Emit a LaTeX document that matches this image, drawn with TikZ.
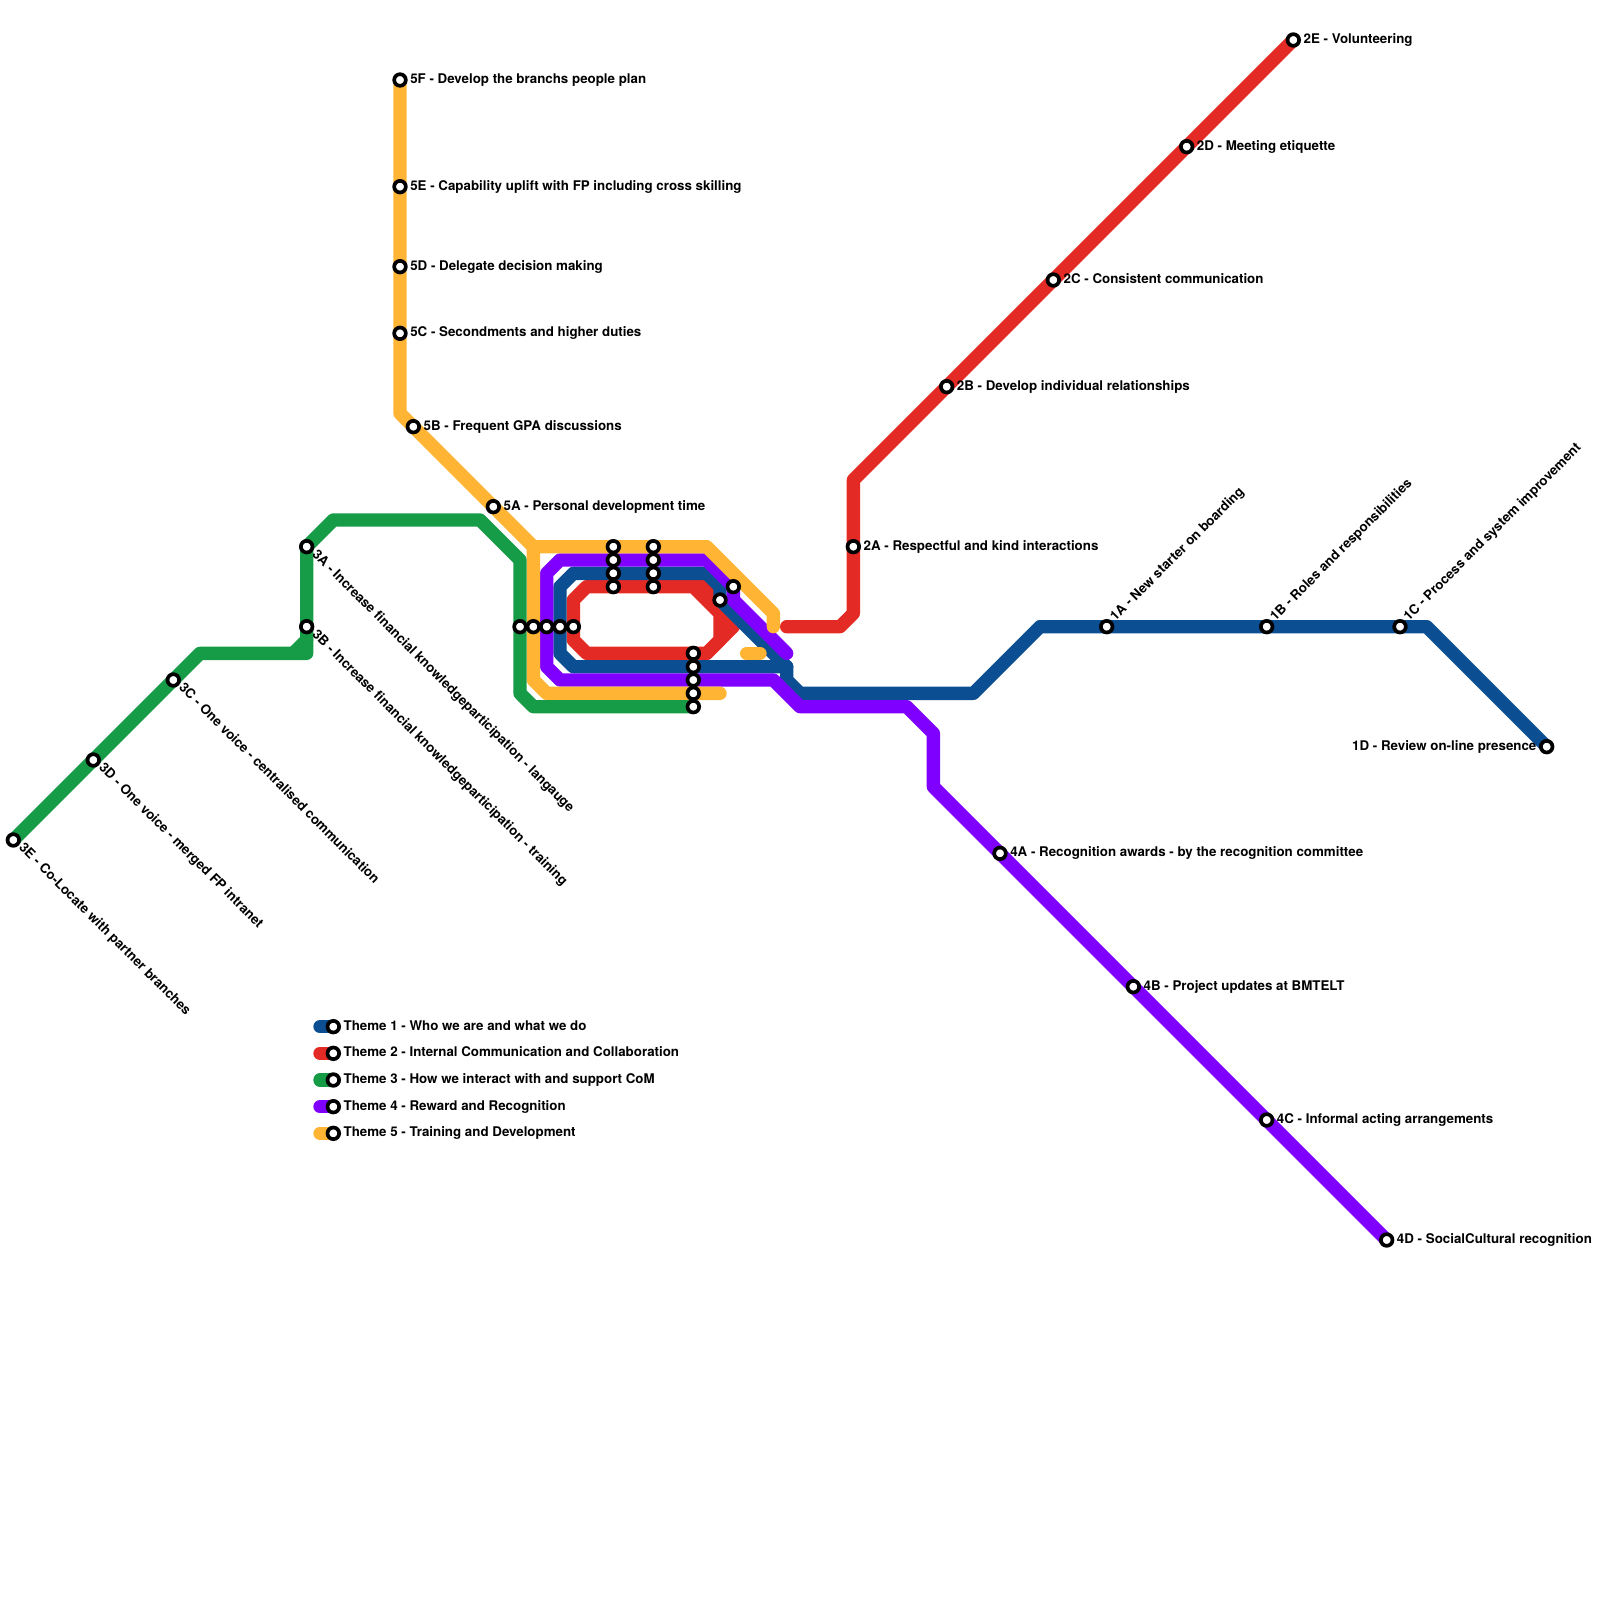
\documentclass[tikz,border=0pt]{standalone}
\usepackage{fontspec}
\setmainfont{TeX Gyre Heros}
\definecolor{tblue}{RGB}{11,78,145}
\definecolor{tred}{RGB}{228,42,36}
\definecolor{tgreen}{RGB}{22,155,70}
\definecolor{tpurple}{RGB}{128,0,255}
\definecolor{torange}{RGB}{255,181,51}
\tikzset{
  route/.style={line width=0.25cm,line cap=round,line join=round},
  station/.style={circle,draw=black,fill=white,line width=1.97pt,minimum size=0.218cm,inner sep=0pt},
  lblfont/.style={inner sep=0pt,font=\bfseries\fontsize{7.11pt}{8pt}\selectfont},
  lbl/.style={lblfont,anchor=base west,xshift=5.3pt,yshift=-1.8pt},
  lbldown/.style={lblfont,anchor=base west,rotate=-45,xshift=5pt,yshift=-1.4pt},
  lblup/.style={lblfont,anchor=base west,rotate=45,xshift=5pt,yshift=-1.4pt},
  lblleft/.style={lblfont,anchor=base east,xshift=-5.3pt,yshift=-1.8pt},
}
\newcommand{\stn}[3][lbl]{\node[station] (n#2) at (s#2) {};\node[#1] (t#2) at (s#2) {#2 - #3};}
\newcommand{\keyrow}[3]{\draw[route,#1] (ka#2) -- (k#2);\node[station] (nk#2) at (k#2) {};\node[lbl] (tk#2) at (k#2) {Theme #2 - #3};}
\begin{document}
\begin{tikzpicture}[x=0.25cm,y=-0.25cm]
\useasboundingbox (0,0) rectangle (120,120);
% stations
\foreach \n/\p in {5F/{30,6},5E/{30,14},5D/{30,20},5C/{30,25},5B/{31,32},5A/{37,38},
 3A/{23,41},3B/{23,47},3C/{13,51},3D/{7,57},3E/{1,63},
 2A/{64,41},2B/{71,29},2C/{79,21},2D/{89,11},2E/{97,3},
 1A/{83,47},1B/{95,47},1C/{105,47},1D/{116,56},
 4A/{75,64},4B/{85,74},4C/{95,84},4D/{104,93},
 H1/{39,47},H2/{40,47},H3/{41,47},H4/{42,47},H5/{43,47},
 A1/{46,41},A2/{46,42},A3/{46,43},A4/{46,44},
 B1/{49,41},B2/{49,42},B3/{49,43},B4/{49,44},
 C1/{52,49},C2/{52,50},C3/{52,51},C4/{52,52},C5/{52,53},
 D1/{54,45},D2/{55,44}}
 {\coordinate (s\n) at (\p);}
\foreach \n/\y in {1/77,2/79,3/81,4/83,5/85}{\coordinate (k\n) at (25,\y);\coordinate (ka\n) at (24,\y);}
% red
\draw[route,tred] (sH5) -- (43,45) -- (44,44) -- (52,44) -- (54,46) -- (54,48) -- (53,49) -- (44,49) -- (43,48) -- (sH5);
\draw[route,tred] (52,44) -- (53,44) -- (54,45) -- (54,46) -- (55,47) -- (53,49);
\draw[route,tred] (59,47) -- (63,47) -- (64,46) -- (s2A) -- (64,36) -- (s2B) -- (s2C) -- (s2D) -- (s2E);
% blue
\draw[route,tblue] (sH4) -- (42,44) -- (43,43) -- (53,43) -- (54,44) -- (sD1) -- (59,50) -- (59,51) -- (60,52) -- (73,52) -- (78,47) -- (s1A) -- (s1B) -- (s1C) -- (107,47) -- (s1D);
\draw[route,tblue] (sH4) -- (42,49) -- (43,50) -- (59,50);
% purple
\draw[route,tpurple] (sH3) -- (41,43) -- (42,42) -- (53,42) -- (sD2) -- (55,45) -- (59,49);
\draw[route,tpurple] (sH3) -- (41,50) -- (42,51) -- (58,51) -- (60,53) -- (68,53) -- (70,55) -- (70,59) -- (s4A) -- (s4B) -- (s4C) -- (s4D);
% orange
\draw[route,torange] (s5F) -- (s5E) -- (s5D) -- (s5C) -- (30,31) -- (s5B) -- (s5A) -- (40,41) -- (53,41) -- (58,46) -- (58,47);
\draw[route,torange] (40,41) -- (sH2) -- (40,51) -- (41,52) -- (54,52);
\draw[route,torange] (56,49) -- (57,49);
% green
\draw[route,tgreen] (sC5) -- (40,53) -- (39,52) -- (sH1) -- (39,42) -- (36,39) -- (25,39) -- (s3A) -- (s3B) -- (23,49) -- (15,49) -- (s3C) -- (s3D) -- (s3E);
\draw[route,tgreen] (22,49) -- (23,48);
% plain stations
\foreach \n in {H1,H2,H3,H4,H5,A1,A2,A3,A4,B1,B2,B3,B4,C1,C2,C3,C4,C5,D1,D2}
 {\node[station] (n\n) at (s\n) {};}
% labelled stations
\stn{5F}{Develop the branchs people plan}
\stn{5E}{Capability uplift with FP including cross skilling}
\stn{5D}{Delegate decision making}
\stn{5C}{Secondments and higher duties}
\stn{5B}{Frequent GPA discussions}
\stn{5A}{Personal development time}
\stn[lbldown]{3A}{Increase financial knowledgeparticipation - langauge}
\stn[lbldown]{3B}{Increase financial knowledgeparticipation - training}
\stn[lbldown]{3C}{One voice - centralised communication}
\stn[lbldown]{3D}{One voice - merged FP intranet}
\stn[lbldown]{3E}{Co-Locate with partner branches}
\stn{2A}{Respectful and kind interactions}
\stn{2B}{Develop individual relationships}
\stn{2C}{Consistent communication}
\stn{2D}{Meeting etiquette}
\stn{2E}{Volunteering}
\stn[lblup]{1A}{New starter on boarding}
\stn[lblup]{1B}{Roles and responsibilities}
\stn[lblup]{1C}{Process and system improvement}
\stn[lblleft]{1D}{Review on-line presence}
\stn{4A}{Recognition awards - by the recognition committee}
\stn{4B}{Project updates at BMTELT}
\stn{4C}{Informal acting arrangements}
\stn{4D}{SocialCultural recognition}
% key
\keyrow{tblue}{1}{Who we are and what we do}
\keyrow{tred}{2}{Internal Communication and Collaboration}
\keyrow{tgreen}{3}{How we interact with and support CoM}
\keyrow{tpurple}{4}{Reward and Recognition}
\keyrow{torange}{5}{Training and Development}
\end{tikzpicture}
\end{document}
